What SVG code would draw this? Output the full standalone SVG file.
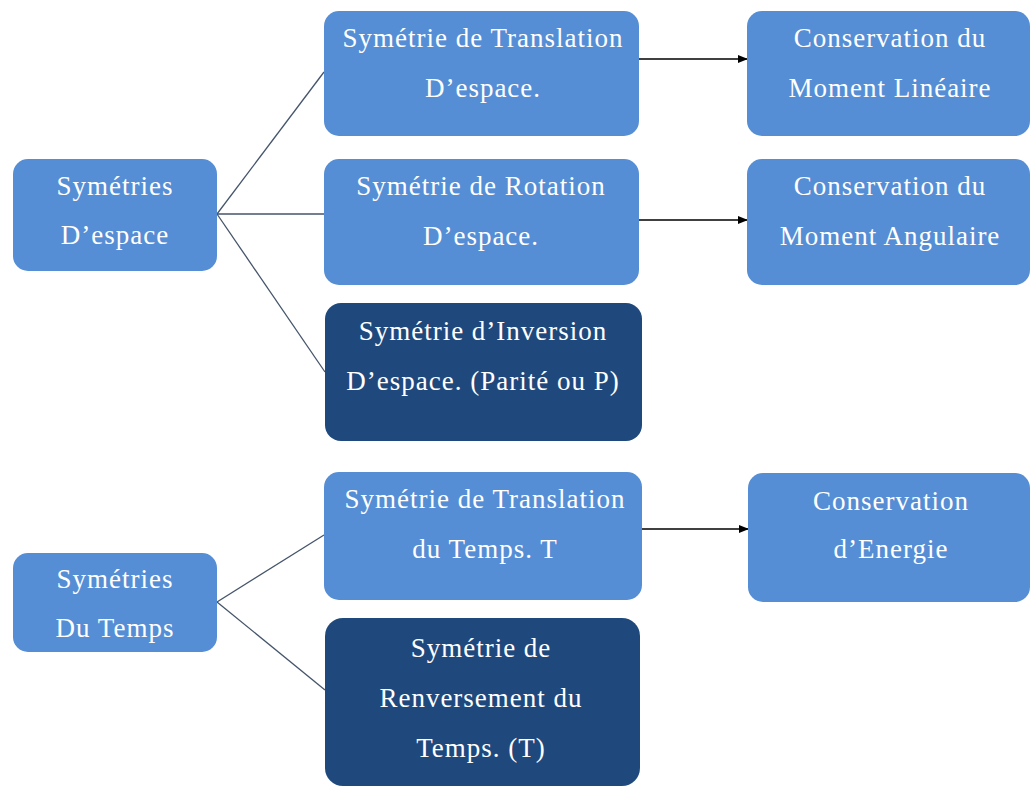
<svg xmlns="http://www.w3.org/2000/svg" width="1032" height="787" viewBox="0 0 1032 787">
<defs>
<style>
.lb{fill:#558ed5;}
.db{fill:#1f497d;}
.t{font-family:'Liberation Serif','DejaVu Serif','Times New Roman',serif;font-size:27px;fill:#ffffff;text-anchor:middle;letter-spacing:1px;}
.ln{stroke:#44546a;stroke-width:1.3;fill:none;}
.ar{stroke:#000000;stroke-width:1.5;fill:none;marker-end:url(#ah);}
</style>
<marker id="ah" markerWidth="10" markerHeight="8" refX="9" refY="4" orient="auto" markerUnits="userSpaceOnUse">
<path d="M0,0 L10,4 L0,8 Z" fill="#000000"/>
</marker>
</defs>
<rect width="1032" height="787" fill="#ffffff"/>
<g id="connectors">
<line class="ln" x1="217" y1="214" x2="324" y2="72"/>
<line class="ln" x1="217" y1="214" x2="324" y2="214"/>
<line class="ln" x1="217" y1="214" x2="325" y2="372"/>
<line class="ln" x1="217" y1="602" x2="324" y2="535"/>
<line class="ln" x1="217" y1="602" x2="325" y2="690"/>
<line class="ar" x1="639" y1="59" x2="747" y2="59"/>
<line class="ar" x1="639" y1="220" x2="747" y2="220"/>
<line class="ar" x1="642" y1="529" x2="748" y2="529"/>
</g>
<g id="n-sym-espace">
<rect class="lb" x="13" y="159" width="204" height="112" rx="15"/>
<text class="t" x="115" y="195">Symétries</text>
<text class="t" x="115" y="244">D’espace</text>
</g>
<g id="n-trans-espace">
<rect class="lb" x="324" y="11" width="315" height="125" rx="15"/>
<text class="t" x="483" y="47">Symétrie de Translation</text>
<text class="t" x="483" y="97">D’espace.</text>
</g>
<g id="n-rot-espace">
<rect class="lb" x="324" y="159" width="315" height="126" rx="15"/>
<text class="t" x="481" y="195">Symétrie de Rotation</text>
<text class="t" x="481" y="245">D’espace.</text>
</g>
<g id="n-inv-espace">
<rect class="db" x="325" y="303" width="317" height="138" rx="16"/>
<text class="t" x="483" y="340">Symétrie d’Inversion</text>
<text class="t" x="483" y="390">D’espace. (Parité ou P)</text>
</g>
<g id="n-cons-lin">
<rect class="lb" x="747" y="11" width="283" height="125" rx="15"/>
<text class="t" x="890" y="47">Conservation du</text>
<text class="t" x="890" y="97">Moment Linéaire</text>
</g>
<g id="n-cons-ang">
<rect class="lb" x="747" y="159" width="283" height="126" rx="15"/>
<text class="t" x="890" y="195">Conservation du</text>
<text class="t" x="890" y="245">Moment Angulaire</text>
</g>
<g id="n-sym-temps">
<rect class="lb" x="13" y="553" width="204" height="99" rx="15"/>
<text class="t" x="115" y="588">Symétries</text>
<text class="t" x="115" y="637">Du Temps</text>
</g>
<g id="n-trans-temps">
<rect class="lb" x="324" y="472" width="318" height="128" rx="15"/>
<text class="t" x="485" y="508">Symétrie de Translation</text>
<text class="t" x="485" y="558">du Temps. T</text>
</g>
<g id="n-renv-temps">
<rect class="db" x="325" y="618" width="315" height="168" rx="18"/>
<text class="t" x="481" y="657">Symétrie de</text>
<text class="t" x="481" y="707">Renversement du</text>
<text class="t" x="481" y="757">Temps. (T)</text>
</g>
<g id="n-cons-energie">
<rect class="lb" x="748" y="473" width="282" height="129" rx="15"/>
<text class="t" x="891" y="510">Conservation</text>
<text class="t" x="891" y="558">d’Energie</text>
</g>
</svg>
